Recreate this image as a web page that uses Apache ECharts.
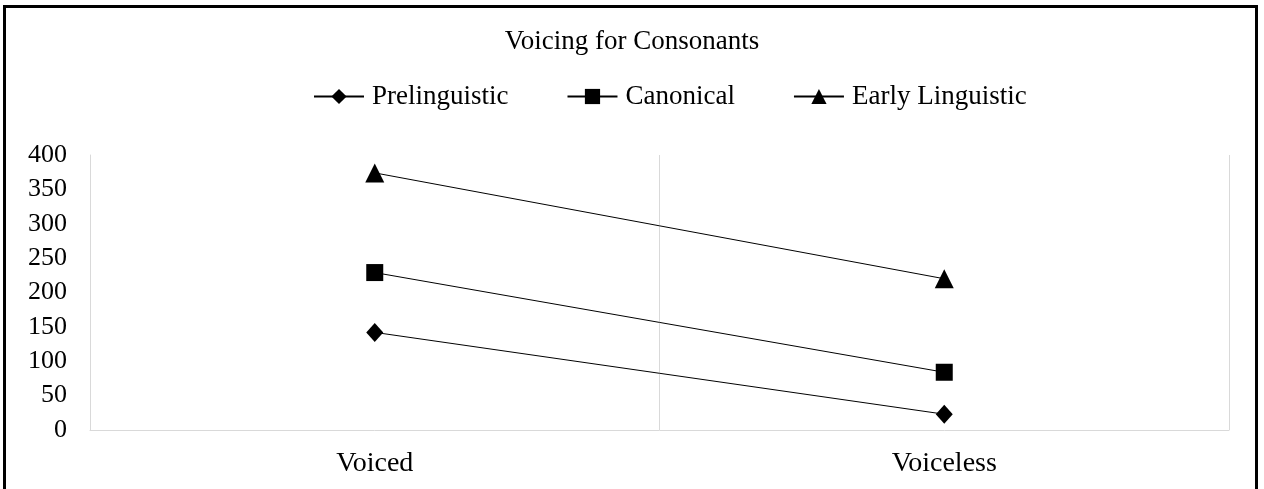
<html><head>
<meta charset="UTF-8">
<title>Voicing for Consonants</title>
<style>
  body { margin: 0; background: #fff; }
  .frame {
    position: absolute; left: 3px; top: 5px; width: 1255px; height: 500px;
    border: 3px solid #000; box-sizing: border-box;
  }
  #chart { position: absolute; left: 0; top: 0; width: 1264px; height: 489px; }
</style>
</head>
<body>
  <div class="frame"></div>
  <div id="chart"></div>
  <script src="https://cdn.jsdelivr.net/npm/echarts@6/dist/echarts.min.js"></script>
  <script>
    const categories = ['Voiced', 'Voiceless'];
    const prelinguistic = [142, 23];
    const canonical = [229, 84];
    const earlyLinguistic = [374, 220];

    const serif = '"Liberation Serif", "Times New Roman", serif';

    function lineSeries(name, data, symbol, size) {
      return {
        name: name,
        type: 'line',
        data: data,
        symbol: symbol,
        symbolSize: size,
        lineStyle: { color: '#000', width: 1 },
        itemStyle: { color: '#000' }
      };
    }

    const chart = echarts.init(document.getElementById('chart'));
    chart.setOption({
      animation: false,
      title: {
        text: 'Voicing for Consonants',
        left: 'center',
        top: 23,
        textStyle: { fontFamily: serif, fontSize: 27, fontWeight: 'normal', color: '#000' }
      },
      legend: {
        top: 78,
        left: 308,
        itemGap: 58,
        itemWidth: 50,
        itemHeight: 19,
        textStyle: { fontFamily: serif, fontSize: 27, color: '#000', padding: [0, 0, 0, 3] },
        data: ['Prelinguistic', 'Canonical', 'Early Linguistic']
      },
      grid: { left: 90, right: 35, top: 155, bottom: 59 },
      xAxis: {
        type: 'category',
        data: categories,
        axisLine: { lineStyle: { color: '#d9d9d9' } },
        axisTick: { show: false },
        splitLine: { show: true, lineStyle: { color: '#d9d9d9' } },
        axisLabel: { fontFamily: serif, fontSize: 28, color: '#000', margin: 20 }
      },
      yAxis: {
        type: 'value',
        min: 0,
        max: 400,
        interval: 50,
        axisLine: { show: true, lineStyle: { color: '#d9d9d9' } },
        splitLine: { show: false },
        axisLabel: { fontFamily: serif, fontSize: 26, color: '#000', margin: 23 }
      },
      series: [
        lineSeries('Prelinguistic', prelinguistic, 'diamond', [17, 19]),
        lineSeries('Canonical', canonical, 'rect', 17),
        lineSeries('Early Linguistic', earlyLinguistic, 'triangle', 19)
      ]
    });
  </script>
</body>
</html>
